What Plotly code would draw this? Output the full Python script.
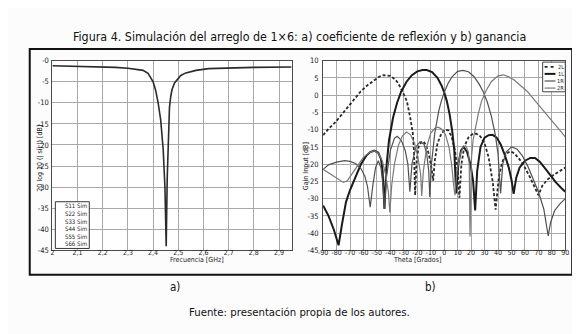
import plotly.graph_objects as go

W, H = 580, 334

# ---------------- data: (a) reflection coefficient ----------------
freq_ghz = [2.00, 2.05, 2.10, 2.15, 2.20, 2.25, 2.30, 2.33, 2.36, 2.38, 2.40, 2.41,
            2.42, 2.43, 2.44, 2.447, 2.452, 2.456, 2.46, 2.465, 2.47, 2.475, 2.485,
            2.495, 2.51, 2.53, 2.57, 2.62, 2.70, 2.80, 2.95]
s11_db = [-1.2, -1.25, -1.3, -1.35, -1.45, -1.6, -1.8, -2.0, -2.3, -3.0, -5.0, -7.0,
          -10.0, -14.0, -21.0, -30.0, -44.0, -28.0, -17.0, -11.0, -8.5, -6.9, -5.3,
          -4.5, -3.5, -2.9, -2.3, -1.9, -1.7, -1.6, -1.5]
s_legend = ["S11 Sim", "S22 Sim", "S33 Sim", "S44 Sim", "S55 Sim", "S66 Sim"]

freq_ticks = [2.0, 2.1, 2.2, 2.3, 2.4, 2.5, 2.6, 2.7, 2.8, 2.9]
freq_ticktext = ["2", "2,1", "2,2", "2,3", "2,4", "2,5", "2,6", "2,7", "2,8", "2,9"]
s_ticks = [0, -5, -10, -15, -20, -25, -30, -35, -40, -45]
s_ticktext = ["-0", "-5", "-10", "-15", "-20", "-25", "-30", "-35", "-40", "-45"]

# ---------------- data: (b) gain patterns ----------------
theta_2L = [-90, -86, -81, -76, -72, -67, -62, -57, -52, -48, -45, -42, -40, -37, -35, -33,
            -31.4, -29.5, -27.7, -26.5, -25.3, -24.3, -23.3, -22.5, -21.6, -20.5, -19, -17,
            -15.5, -13.5, -11.5, -9.5, -8.2, -7, -5, -2, 1, 3, 5.5, 8, 10, 11.3, 12.8, 15,
            18, 21, 24, 27, 30, 33, 36, 38.2, 40.5, 43, 46, 49, 52, 56, 60, 64, 67, 70, 73,
            77, 81, 85, 90]
gain_2L = [-11.6, -9.8, -7.9, -5.6, -3.6, -1.2, 1.1, 2.9, 4.4, 5.4, 5.8, 5.8, 5.6, 4.7, 3.9, 2.6,
           1.5, -0.2, -1.8, -3.8, -6.4, -8.7, -11.2, -16, -29, -19, -15, -13.6,
           -13.4, -14.5, -17, -21, -24.8, -19, -14, -11, -10, -10.2, -12, -16, -22, -29.7, -20, -14.8,
           -12.3, -11.3, -11.2, -12, -14, -18, -25, -33.2, -24, -19.5, -17, -16.3, -16.8, -18.6, -21, -24, -26.5, -29, -26.2,
           -24.4, -23.2, -22.2, -21]

theta_1L = [-90, -86, -82, -78.5, -76, -73, -70, -66, -62, -58, -55, -52, -49, -47, -45.8, -44.4,
            -43, -41, -38, -35, -32, -28, -24, -20, -16, -13, -9, -5, -2, 0, 2, 4, 6, 7.5, 8.9,
            10.5, 12.5, 14.5, 17, 19.5, 21.5, 23, 24.5, 27, 30, 33, 36, 39, 42, 45, 48, 50,
            51.6, 53.5, 56, 60, 64, 67.5, 71, 75, 79, 83, 87, 90]
gain_1L = [-32, -35, -39, -43.5, -37.5, -31, -27.5, -23.8, -20.1, -17.6, -16.5, -16.1, -16.7, -18.5, -22, -33,
           -21, -13, -6.5, -2.2, 1.0, 3.9, 5.8, 6.9, 7.3, 7.3, 6.7, 5.0, 2.8, 0.8, -1.8, -5.5, -10.5, -16, -28.5,
           -20, -16, -15, -16.5, -20, -25, -33.4, -22, -15, -12.3, -11.6, -11.5, -12.3, -14.3, -17.3, -21, -24.5,
           -28.6, -24, -21, -19, -18.2, -18.2, -19.3, -21.2, -23.4, -25.3, -26.9, -28]

theta_1R = [-90, -86, -80, -74, -70, -66, -62, -59, -57, -55, -53, -51, -49, -47, -45.5, -44.4,
            -43, -40, -37, -35, -32, -29, -27, -25.5, -24, -21, -18, -15, -13, -11.5, -10.7,
            -9.5, -7, -4, -2, 0, 3, 6, 10, 14, 18, 22, 26, 29, 32, 35, 38, 40, 41.9, 43.5, 46,
            50, 54, 58, 62, 66, 70, 74, 77.3, 79, 82, 86, 90]
gain_1R = [-21.5, -20.2, -19.4, -19.0, -19.2, -19.8, -21.2, -23.5, -26.5, -32.5, -26, -21, -19, -21, -26, -33,
           -24, -16, -12.5, -11.9, -13, -16, -20, -28, -20, -15, -13.5, -14.2, -17, -22, -29.5,
           -20, -11, -4.5, -1.5, 0.8, 3.5, 5.4, 6.9, 7.2, 6.8, 5.4, 3.2, 1.0, -2, -6, -11.5, -17, -28.5, -20, -16.5,
           -15, -15.6, -17.5, -20.5, -24, -28, -33, -40.8, -37, -33.5, -31.5, -30]

theta_2R = [-90, -85, -80, -75, -72, -68, -64, -60, -56, -52, -49, -46, -43.5, -41.5, -40.4, -39,
            -37, -34, -31, -28, -25, -22, -19.5, -17.5, -16.7, -15.5, -13, -10, -7, -4.5, -2, 1,
            3.5, 5.5, 7, 8, 9.5, 12, 14, 16, 18, 18.6, 19.2, 20.3, 21.5, 23.3, 25.3, 27.7, 31,
            35, 40, 44, 48, 52, 57, 62, 67, 72, 77, 81, 86, 90]
gain_2R = [-21.5, -22.7, -24, -25.3, -24.8, -22.5, -20, -18, -16.7, -16.1, -16.8, -19, -23, -28, -34, -26,
           -20, -14.5, -11.8, -10.7, -11.5, -14, -18, -23, -29.2, -22, -15, -11, -9.6, -9.3, -9.8, -11.5,
           -15, -20, -26, -29, -22, -17, -15.2, -14.7, -16.5, -20, -41, -18, -13, -9, -5.5, -1.8, 1.2,
           3.9, 5.6, 5.9, 5.3, 4.4, 2.8, 1.0, -1.4, -3.8, -6.2, -8.0, -10.2, -12.1]

series_names = ["2L", "1L", "1R", "2R"]
theta_ticks = [-90, -80, -70, -60, -50, -40, -30, -20, -10, 0, 10, 20, 30, 40, 50, 60, 70, 80, 90]
theta_ticktext = ["-90", "-80", "-70", "-60", "-50", "-40", "-30", "-20", "-10", "0",
                  "10", "20", "30", "40", "50", "60", "70", "80", "90"]
gain_ticks = [10, 5, 0, -5, -10, -15, -20, -25, -30, -35, -40, -45]
gain_ticktext = ["10", "5", "0", "-5", "-10", "-15", "-20", "-25", "-30", "-35", "-40", "-45"]

# ---------------- styling ----------------
FONT = "DejaVu Sans Condensed, Liberation Sans Narrow, Arial Narrow, sans-serif"
GRID = "#a8a8a8"
AXL = "#4a4a4a"


def px(x):
    return x / W


def py(y):
    return 1 - y / H


styles = {
    "2L": dict(color="#2a2a2a", width=1.8, dash="3px,2px"),
    "1L": dict(color="#1a1a1a", width=2.0, dash="solid"),
    "1R": dict(color="#505050", width=1.2, dash="solid"),
    "2R": dict(color="#7a7a7a", width=1.2, dash="solid"),
}

fig = go.Figure()

fig.add_trace(go.Scatter(x=freq_ghz, y=s11_db, mode="lines", xaxis="x", yaxis="y",
                         line=dict(color="#2b2b2b", width=1.6), showlegend=False))

for name, th, g in [("2L", theta_2L, gain_2L), ("1L", theta_1L, gain_1L),
                    ("1R", theta_1R, gain_1R), ("2R", theta_2R, gain_2R)]:
    fig.add_trace(go.Scatter(x=th, y=g, mode="lines", xaxis="x2", yaxis="y2",
                             line=styles[name], name=name, showlegend=False))

xtickfont = dict(family=FONT, size=7, color="#222")
ytickfont = dict(family=FONT, size=7.5, color="#222")
common = dict(showgrid=True, gridcolor=GRID, gridwidth=1, showline=True, linecolor=AXL,
              linewidth=1, mirror=True, ticks="", zeroline=False)

fig.update_layout(
    width=W, height=H, margin=dict(l=0, r=0, t=0, b=0),
    paper_bgcolor="#fcfcfc", plot_bgcolor="#ffffff",
    xaxis=dict(domain=[px(40), px(283)], range=[2, 2.95], tickvals=freq_ticks,
               ticktext=freq_ticktext, anchor="y", tickangle=0, tickfont=xtickfont,
               ticklabelstandoff=-5, **common),
    yaxis=dict(domain=[py(245), py(50)], range=[-45, 0], tickvals=s_ticks,
               ticktext=s_ticktext, anchor="x", tickfont=ytickfont, ticklabelstandoff=1, **common),
    xaxis2=dict(domain=[px(315), px(561)], range=[-90, 90], tickvals=theta_ticks,
                ticktext=theta_ticktext, anchor="y2", tickangle=0, tickfont=xtickfont,
                ticklabelstandoff=-5, **common),
    yaxis2=dict(domain=[py(245), py(50)], range=[-45, 10], tickvals=gain_ticks,
                ticktext=gain_ticktext, anchor="x2", tickfont=ytickfont, ticklabelstandoff=2, **common),
)

shapes = []
annotations = []

# outer frame
shapes.append(dict(type="rect", xref="paper", yref="paper", x0=px(17), x1=px(568),
                   y0=py(270), y1=py(38), line=dict(color="#111", width=2)))

# title / captions
annotations.append(dict(text="Figura 4. Simulación del arreglo de 1×6: a) coeficiente de reflexión y b) ganancia",
                        xref="paper", yref="paper", x=px(291), y=py(15), showarrow=False,
                        font=dict(family=FONT, size=12.4, color="#111")))
annotations.append(dict(text="a)", xref="paper", yref="paper", x=px(157), y=py(292), showarrow=False,
                        font=dict(family=FONT, size=11.5, color="#111")))
annotations.append(dict(text="b)", xref="paper", yref="paper", x=px(432), y=py(292), showarrow=False,
                        font=dict(family=FONT, size=11.5, color="#111")))
annotations.append(dict(text="Fuente: presentación propia de los autores.", xref="paper", yref="paper",
                        x=px(291), y=py(318), showarrow=False,
                        font=dict(family=FONT, size=11.3, color="#111")))

# axis titles
annotations.append(dict(text="Frecuencia [GHz]", xref="paper", yref="paper", x=px(157), y=py(261.5),
                        showarrow=False, font=dict(family=FONT, size=7, color="#222")))
annotations.append(dict(text="Theta [Grados]", xref="paper", yref="paper", x=px(437), y=py(261.5),
                        showarrow=False, font=dict(family=FONT, size=7, color="#222")))
annotations.append(dict(text="20 log 10 (| sij |) [dB]", xref="paper", yref="paper", x=px(21), y=py(150),
                        showarrow=False, textangle=-90, font=dict(family=FONT, size=7, color="#222")))
annotations.append(dict(text="Gain Input [dB]", xref="paper", yref="paper", x=px(297), y=py(158),
                        showarrow=False, textangle=-90, font=dict(family=FONT, size=7, color="#222")))

# legend (a)
shapes.append(dict(type="rect", xref="paper", yref="paper", x0=px(43), x1=px(77.5),
                   y0=py(243), y1=py(195), line=dict(color="#333", width=1), fillcolor="#ffffff"))
for i, lab in enumerate(s_legend):
    annotations.append(dict(text=lab, xref="paper", yref="paper", x=px(76.5), y=py(199.2 + i * 7.8),
                            xanchor="right", yanchor="middle", showarrow=False, borderpad=0,
                            font=dict(family=FONT, size=6.0, color="#222")))

# legend (b)
shapes.append(dict(type="rect", xref="paper", yref="paper", x0=px(538), x1=px(561),
                   y0=py(82), y1=py(51.5), line=dict(color="#444", width=1), fillcolor="#ffffff"))
for i, name in enumerate(series_names):
    yy = py(56.3 + i * 7.3)
    st = styles[name]
    shapes.append(dict(type="line", xref="paper", yref="paper", x0=px(540), x1=px(551),
                       y0=yy, y1=yy, line=dict(color=st["color"], width=st["width"],
                                               dash="dot" if st["dash"] != "solid" else "solid")))
    annotations.append(dict(text=name, xref="paper", yref="paper", x=px(560.5), y=yy,
                            xanchor="right", yanchor="middle", showarrow=False, borderpad=0,
                            font=dict(family=FONT, size=5.6, color="#222")))

fig.update_layout(shapes=shapes, annotations=annotations)
fig.write_html("out.html")
